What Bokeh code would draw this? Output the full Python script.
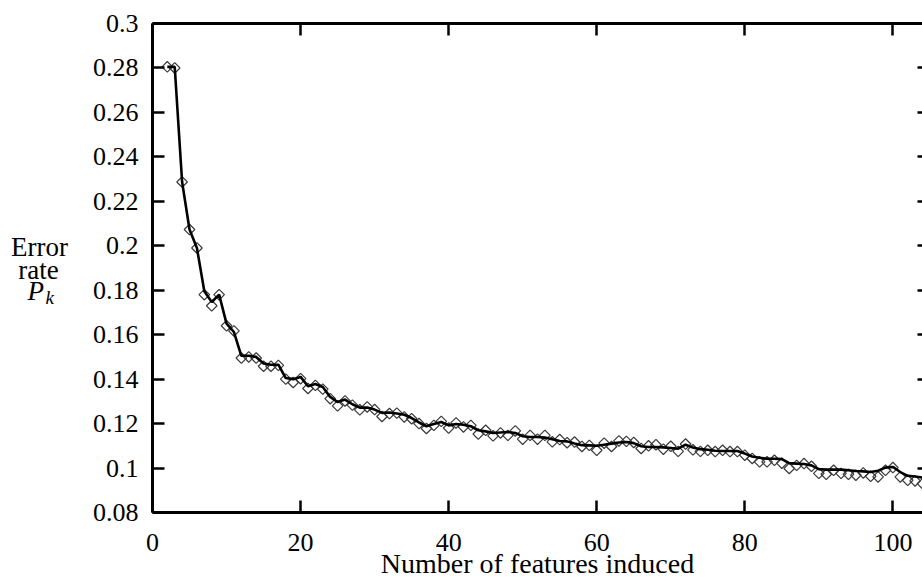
import math
from bokeh.plotting import figure
from bokeh.layouts import row
from bokeh.models import Range1d, LinearAxis, FixedTicker
from bokeh.core.properties import value
from bokeh.embed import file_html
from bokeh.resources import INLINE

# diamonds: observed error rate per number of features
marker_x = list(range(2, 105))
marker_y = [
    0.2805, 0.2800, 0.2287, 0.2073, 0.1990, 0.1780, 0.1730, 0.1780, 0.1640, 0.1617,
    0.1495, 0.1500, 0.1495, 0.1458, 0.1458, 0.1462, 0.1400, 0.1385, 0.1402, 0.1358,
    0.1372, 0.1355, 0.1312, 0.1280, 0.1302, 0.1283, 0.1262, 0.1275, 0.1263, 0.1232,
    0.1245, 0.1247, 0.1230, 0.1222, 0.1200, 0.1178, 0.1192, 0.1210, 0.1180, 0.1203,
    0.1185, 0.1192, 0.1153, 0.1170, 0.1145, 0.1158, 0.1147, 0.1167, 0.1130, 0.1147,
    0.1130, 0.1147, 0.1118, 0.1128, 0.1114, 0.1117, 0.1097, 0.1102, 0.1080, 0.1112,
    0.1097, 0.1122, 0.1120, 0.1115, 0.1088, 0.1100, 0.1105, 0.1085, 0.1098, 0.1075,
    0.1108, 0.1082, 0.1075, 0.1080, 0.1074, 0.1080, 0.1074, 0.1074, 0.1058, 0.1043,
    0.1028, 0.1028, 0.1035, 0.1022, 0.0998, 0.1012, 0.1020, 0.1008, 0.0976, 0.0972,
    0.0990, 0.0976, 0.0972, 0.0968, 0.0978, 0.0963, 0.0960, 0.0990, 0.1002, 0.0960,
    0.0945, 0.0942, 0.0930,
]

# solid curve
curve_x = list(range(2, 105))
curve_y = [
    0.2805, 0.2805, 0.2287, 0.2073, 0.1990, 0.1795, 0.1747, 0.1780, 0.1650, 0.1612,
    0.1505, 0.1505, 0.1500, 0.1470, 0.1465, 0.1465, 0.1405, 0.1400, 0.1410, 0.1368,
    0.1378, 0.1365, 0.1320, 0.1297, 0.1308, 0.1287, 0.1272, 0.1272, 0.1263, 0.1248,
    0.1250, 0.1245, 0.1240, 0.1225, 0.1205, 0.1188, 0.1198, 0.1207, 0.1192, 0.1198,
    0.1195, 0.1188, 0.1170, 0.1165, 0.1158, 0.1160, 0.1162, 0.1158, 0.1143, 0.1140,
    0.1140, 0.1137, 0.1130, 0.1122, 0.1120, 0.1110, 0.1103, 0.1102, 0.1100, 0.1105,
    0.1110, 0.1115, 0.1117, 0.1112, 0.1098, 0.1095, 0.1095, 0.1093, 0.1090, 0.1087,
    0.1105, 0.1092, 0.1085, 0.1082, 0.1078, 0.1077, 0.1077, 0.1077, 0.1065, 0.1052,
    0.1046, 0.1042, 0.1042, 0.1040, 0.1022, 0.1020, 0.1018, 0.1012, 0.0995, 0.0993,
    0.0993, 0.0993, 0.0990, 0.0987, 0.0985, 0.0982, 0.0988, 0.1002, 0.1005, 0.0982,
    0.0965, 0.0962, 0.0957,
]

x_ticks = [0, 20, 40, 60, 80, 100]
x_tick_labels = ["0", "20", "40", "60", "80", "100"]
y_ticks = [0.08, 0.1, 0.12, 0.14, 0.16, 0.18, 0.2, 0.22, 0.24, 0.26, 0.28, 0.3]
y_tick_labels = ["0.08", "0.1", "0.12", "0.14", "0.16", "0.18", "0.2", "0.22",
                 "0.24", "0.26", "0.28", "0.3"]
x_title = "Number of features induced"
y_title_lines = ["Error", "rate"]
y_title_symbol = "P"
y_title_subscript = "k"

FONT = "Liberation Serif"
W, H = 922, 581
LAB_W = 80
TOP, BOTTOM = 23, 69          # borders around the plotting frame

# ---- narrow figure that carries the horizontal y-axis title ----
# its y range is in pixels measured up from the bottom of the page
lab = figure(width=LAB_W, height=H, output_backend="svg", toolbar_location=None,
             x_range=Range1d(0, LAB_W), y_range=Range1d(BOTTOM, H - TOP),
             x_axis_type=None, y_axis_type=None,
             min_border_left=0, min_border_right=0,
             min_border_top=TOP, min_border_bottom=BOTTOM)
lab.outline_line_color = None
lab.xgrid.visible = False
lab.ygrid.visible = False
lab.text(x=[39, 38], y=[H - 246, H - 269], text=y_title_lines,
         text_font=value(FONT), text_font_size="27px", text_color="black",
         text_align="center", text_baseline="alphabetic")
lab.text(x=[27], y=[H - 290], text=[y_title_symbol],
         text_font=value(FONT), text_font_size="27px", text_font_style="italic",
         text_color="black", text_align="left", text_baseline="alphabetic")
lab.text(x=[45], y=[H - 297], text=[y_title_subscript],
         text_font=value(FONT), text_font_size="19px", text_font_style="italic",
         text_color="black", text_align="left", text_baseline="alphabetic")

# ---- main plot ----
p = figure(width=W - LAB_W, height=H, output_backend="svg", toolbar_location=None,
           x_range=Range1d(0, 104), y_range=Range1d(0.08, 0.3),
           min_border_left=152 - LAB_W, min_border_right=0, min_border_top=TOP,
           min_border_bottom=BOTTOM, background_fill_color="white",
           border_fill_color="white")
p.outline_line_color = None
p.xgrid.visible = False
p.ygrid.visible = False

bottom = p.below[0]
left = p.left[0]
top_axis = LinearAxis()
right_axis = LinearAxis()
p.add_layout(top_axis, "above")
p.add_layout(right_axis, "right")

for ax in (bottom, top_axis):
    ax.ticker = FixedTicker(ticks=x_ticks)
for ax in (left, right_axis):
    ax.ticker = FixedTicker(ticks=y_ticks)

for ax in (bottom, top_axis, left, right_axis):
    ax.axis_line_width = 3
    ax.axis_line_color = "black"
    ax.major_tick_line_width = 2.5
    ax.major_tick_line_color = "black"
    ax.major_tick_in = 12
    ax.major_tick_out = 0
    ax.minor_tick_line_color = None
    ax.major_label_text_font = FONT
    ax.major_label_text_font_size = "26px"
    ax.major_label_text_color = "black"

bottom.major_label_overrides = dict(zip(x_ticks, x_tick_labels))
bottom.major_label_standoff = 21
bottom.axis_label = x_title
bottom.axis_label_text_font = FONT
bottom.axis_label_text_font_size = "28px"
bottom.axis_label_text_font_style = "normal"
bottom.axis_label_text_color = "black"
bottom.axis_label_standoff = -6

left.major_label_overrides = {t: s for t, s in zip(y_ticks, y_tick_labels)}
left.major_label_standoff = 14

for ax in (top_axis, right_axis):
    ax.major_label_text_color = None
    ax.major_label_text_font_size = "1px"
    ax.major_label_standoff = 0
right_axis.axis_line_color = None
right_axis.major_tick_in = 5

p.scatter(marker_x, marker_y, marker="square", angle=math.pi / 4, size=7.5,
          fill_color=None, line_color="#3a3a3a", line_width=1.2)
p.line(curve_x, curve_y, line_color="black", line_width=2.6)

layout = row(lab, p, spacing=0)
open("out.html", "w").write(file_html(layout, INLINE))
